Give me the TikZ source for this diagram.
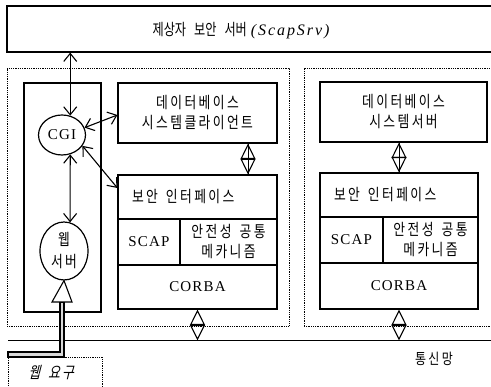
\documentclass[tikz,border=0pt]{standalone}
\usepackage{fontspec}
\setmainfont{Liberation Serif}
\newfontfamily\kr{Noto Sans CJK KR}[FakeStretch=0.8,LetterSpace=15]
\newfontfamily\krt{Noto Sans CJK KR}[FakeStretch=0.76,LetterSpace=0]
\newfontfamily\krs{Noto Sans CJK KR}[FakeStretch=0.8,FakeSlant=0.25,LetterSpace=12]
\newfontfamily\latsp{Liberation Serif}[LetterSpace=8]
\newfontfamily\latwide{Liberation Serif}[LetterSpace=12]
\usetikzlibrary{shapes.geometric,arrows.meta}

\tikzset{
  box/.style={draw, line width=1.2pt, inner sep=0pt},
  grp/.style={draw, densely dotted, line width=0.8pt, inner sep=0pt},
  bi/.style={line width=1.1pt,
    {Straight Barb[length=8pt,width=13pt]}-{Straight Barb[length=8pt,width=13pt]}},
  dia/.style={line width=1.1pt,
    {Triangle[open,length=15.5pt,width=15pt]}-{Triangle[open,length=15.5pt,width=15pt]}},
  krtext/.style={font=\kr\fontsize{16}{20}\selectfont, align=center},
  lat/.style={font=\latsp\fontsize{15}{18}\selectfont},
}
\newcommand\wgap{\hspace{8pt}}

\begin{document}
\begin{tikzpicture}[x=1pt,y=-1pt]
\useasboundingbox (0,0) rectangle (491,387);
\clip (0,0) rectangle (491,387);

% security server strip along the top
\node[box, minimum width=500pt, minimum height=46pt,
  label={[xshift=-16pt, yshift=-2pt, font=\fontsize{16}{16}\selectfont]center:{\krt 제상자\wgap 보안\wgap 서버}\hspace{4pt}{\latwide\itshape (ScapSrv)}}]
  (srv) at (257,29) {};

% host groups
\node[grp, minimum width=282pt, minimum height=258pt] (lgrp) at (148,197) {};
\node[grp, minimum width=206pt, minimum height=258pt] (rgrp) at (407,197) {};

% network backbone
\coordinate (netL) at (8,340.5);
\coordinate (netR) at (495,340.5);
\draw[line width=1.2pt] (netL) -- (netR);
\node[krtext, font=\kr\fontsize{15}{20}\selectfont] (netlbl) at (434,359) {통신망};

% web side of the left host
\node[box, minimum width=77pt, minimum height=229pt] (wf) at (62.5,197.5) {};
\node[box, ellipse, minimum width=47pt, minimum height=40pt, lat] (cgi) at (62,135) {CGI};
\node[box, ellipse, minimum width=48pt, minimum height=58pt, krtext,
  font=\kr\fontsize{16}{22}\selectfont] (web) at (64,251) {웹\\서버};

% left host stack
\node[box, minimum width=159pt, minimum height=60pt, krtext] (dbc) at (197.5,113)
  {데이터베이스\\시스템클라이언트};
\node[box, minimum width=159pt, minimum height=44pt, krtext, text width=131pt,
  align=left, inner xsep=14pt] (sif1) at (197.5,197) {보안\wgap 인터페이스};
\node[box, minimum width=62pt, minimum height=46pt, lat] (scap1) at (149,242) {SCAP};
\node[box, minimum width=97pt, minimum height=46pt, krtext] (mech1) at (228.5,242)
  {안전성\wgap 공통\\메카니즘};
\node[box, minimum width=159pt, minimum height=44pt, lat] (corba1) at (197.5,287) {CORBA};

% right host stack
\node[box, minimum width=167pt, minimum height=60pt, krtext] (dbs) at (403.5,112)
  {데이터베이스\\시스템서버};
\node[box, minimum width=158pt, minimum height=44pt, krtext, text width=130pt,
  align=left, inner xsep=14pt] (sif2) at (399,195) {보안\wgap 인터페이스};
\node[box, minimum width=63pt, minimum height=46pt, lat] (scap2) at (351.5,240) {SCAP};
\node[box, minimum width=95pt, minimum height=46pt, krtext] (mech2) at (430.5,240)
  {안전성\wgap 공통\\메카니즘};
\node[box, minimum width=158pt, minimum height=46pt, lat] (corba2) at (399,286) {CORBA};

% CGI links
\draw[bi] (srv.south -| cgi.67) -- (cgi.67);
\draw[bi] (cgi.-67) -- (web.78);
\draw[bi] (cgi.18) -- ([yshift=-2pt]dbc.west);
\draw[bi] (cgi.-28) -- ([yshift=9pt]sif1.west);

% stack links
\coordinate (dbcx) at ([xshift=50.5pt]dbc.south);
\draw[dia] (dbcx) -- (dbcx |- sif1.north);
\draw[line width=0.5pt] (dbcx) -- (dbcx |- sif1.north);
\draw[dia] (dbs.south -| sif2.north) -- (sif2.north);
\draw[line width=0.5pt] (dbs.south -| sif2.north) -- (sif2.north);
\draw[dia] (corba1.south) -- (corba1.south |- netL);
\draw[dia] (corba2.south) -- (corba2.south |- netL);

% incoming web request
\node[grp, minimum width=94pt, minimum height=40pt, anchor=north west] (reqbox) at (8,357) {};
\node[font=\krs\fontsize{16}{16}\selectfont] (req) at (51,373) {웹\wgap 요구};
\draw[line width=1.1pt, fill=gray!30]
  (8,352) -- (60,352) -- (60,302) -- (64,302) -- (64,357) -- (8,357) -- cycle;
\draw[line width=1.1pt, fill=white] (52,302) -- (72,302) -- (web.south) -- cycle;
\end{tikzpicture}
\end{document}
